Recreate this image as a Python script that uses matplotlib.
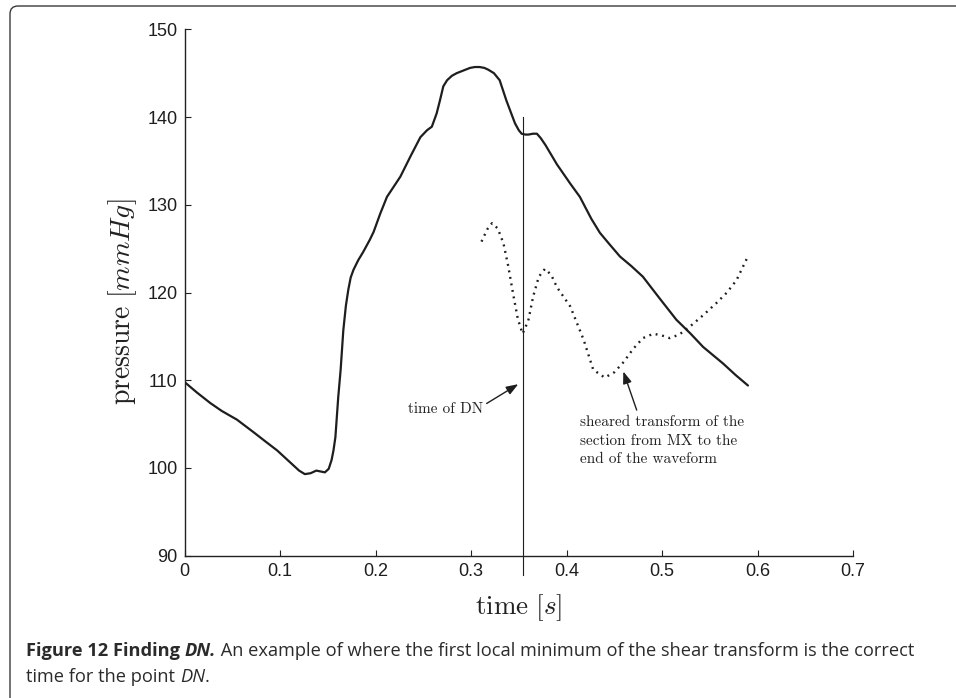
import matplotlib
matplotlib.use("Agg")
import matplotlib.pyplot as plt
from matplotlib.patches import FancyBboxPatch

# ---------------- data ----------------
wave_t = [0.000, 0.013, 0.027, 0.039, 0.055, 0.072, 0.085, 0.097, 0.106, 0.114,
          0.120, 0.126, 0.132, 0.138, 0.147, 0.151, 0.154, 0.156, 0.158, 0.161,
          0.1635, 0.1663, 0.169, 0.1715, 0.174, 0.177, 0.182, 0.187, 0.194, 0.198,
          0.205, 0.212, 0.226, 0.237, 0.247, 0.254, 0.259, 0.264, 0.2675, 0.271,
          0.275, 0.280, 0.285, 0.292, 0.299, 0.304, 0.309, 0.314, 0.318, 0.324,
          0.330, 0.337, 0.346, 0.350, 0.353, 0.357, 0.360, 0.365, 0.369, 0.373,
          0.378, 0.390, 0.404, 0.414, 0.426, 0.435, 0.445, 0.456, 0.468, 0.480,
          0.497, 0.515, 0.530, 0.543, 0.564, 0.577, 0.590]
wave_p = [109.8, 108.6, 107.4, 106.5, 105.5, 104.1, 103.0, 102.0, 101.1, 100.3,
          99.7, 99.3, 99.4, 99.7, 99.5, 99.9, 100.9, 102.0, 103.5, 108.1,
          111.2, 115.7, 118.5, 120.3, 121.7, 122.6, 123.7, 124.6, 126.0, 126.9,
          129.0, 130.9, 133.2, 135.6, 137.7, 138.5, 138.9, 140.4, 141.9, 143.5,
          144.2, 144.7, 145.0, 145.3, 145.6, 145.7, 145.7, 145.6, 145.4, 145.0,
          144.2, 141.9, 139.3, 138.5, 138.1, 138.0, 138.0, 138.1, 138.1, 137.6,
          136.8, 134.6, 132.4, 130.9, 128.4, 126.8, 125.5, 124.1, 123.0, 121.8,
          119.4, 116.9, 115.3, 113.8, 111.9, 110.6, 109.4]

shear_t = [0.311, 0.317, 0.322, 0.328, 0.334, 0.339, 0.344, 0.349, 0.354, 0.360,
           0.365, 0.371, 0.3775, 0.384, 0.390, 0.404, 0.418, 0.428, 0.440, 0.450,
           0.460, 0.470, 0.480, 0.491, 0.500, 0.508, 0.518, 0.529, 0.543, 0.557,
           0.568, 0.578, 0.589]
shear_p = [125.8, 127.2, 127.9, 127.3, 125.6, 123.0, 119.9, 117.0, 115.3, 116.8,
           119.5, 121.8, 122.7, 122.0, 120.6, 118.4, 114.6, 111.2, 110.3, 110.9,
           112.1, 113.6, 114.8, 115.3, 115.1, 114.8, 115.2, 116.1, 117.4, 118.8,
           120.0, 121.4, 123.9]

dn_time = 0.3545
dn_line_p = [87.8, 140.0]

x_ticks = [0, 0.1, 0.2, 0.3, 0.4, 0.5, 0.6, 0.7]
x_ticklabels = ["0", "0.1", "0.2", "0.3", "0.4", "0.5", "0.6", "0.7"]
y_ticks = [90, 100, 110, 120, 130, 140, 150]
y_ticklabels = ["90", "100", "110", "120", "130", "140", "150"]

# ---------------- figure ----------------
plt.rcParams["mathtext.fontset"] = "cm"
W, H = 956, 698
fig = plt.figure(figsize=(W / 100, H / 100), dpi=100)

# border (open at right / bottom, rounded top-left corner)
border = FancyBboxPatch((0.10, -0.5), 10.0, 6.98 - 0.06 + 0.5,
                        boxstyle="round,pad=0,rounding_size=0.08",
                        transform=fig.dpi_scale_trans, fill=False,
                        edgecolor="#3a3a3a", linewidth=1.0, clip_on=False)
fig.patches.append(border)

ax = fig.add_axes([184.5 / W, 1 - 555.7 / H, (853 - 184.5) / W, (555.7 - 29.3) / H])
ax.set_xlim(0, 0.7)
ax.set_ylim(90, 150)
ax.spines["top"].set_visible(False)
ax.spines["right"].set_visible(False)
for s in ("left", "bottom"):
    ax.spines[s].set_linewidth(1.0)
    ax.spines[s].set_color("#222222")

ax.set_xticks(x_ticks)
ax.set_xticklabels(x_ticklabels)
ax.set_yticks(y_ticks)
ax.set_yticklabels(y_ticklabels)
ax.tick_params(direction="in", length=4, width=0.8, color="#222222",
               labelsize=13, labelcolor="#1e1e1e", pad=5)
for lbl in ax.get_xticklabels() + ax.get_yticklabels():
    lbl.set_family("Liberation Sans")

ax.plot(wave_t, wave_p, color="#1e1e1e", lw=1.6, solid_joinstyle="round",
        solid_capstyle="round")
ax.plot(shear_t, shear_p, color="#1e1e1e", lw=1.7, linestyle=(0, (0.8, 2.0)),
        dash_capstyle="butt")
ax.plot([dn_time, dn_time], dn_line_p, color="#1e1e1e", lw=0.8, clip_on=False)

ax.set_xlabel(r"$\mathrm{time}\ [s]$", fontsize=19.5, color="#222222", va="center")
ax.xaxis.set_label_coords(0.5, (555.7 - 608) / 526.4)
ax.set_ylabel(r"$\mathrm{pressure}\ [mmHg]$", fontsize=20, color="#222222", va="center")
ax.yaxis.set_label_coords((123 - 184.5) / 668.5, (555.7 - 302) / 526.4)

ann_font = dict(family="cmr10", fontsize=11, color="#222222")
ax.text(0.3126, 106.7, "time of DN", ha="right", va="center", **ann_font)
ax.annotate("", xy=(0.3495, 109.55), xytext=(0.3164, 107.35),
            arrowprops=dict(arrowstyle="-|>,head_length=0.6,head_width=0.22",
                            mutation_scale=12, color="#1e1e1e", lw=1.0,
                            shrinkA=0, shrinkB=0))
ax.text(0.414, 106.0, "sheared transform of the\nsection from MX to the\nend of the waveform",
        ha="left", va="top", linespacing=1.45, **ann_font)
ax.annotate("", xy=(0.4595, 111.0), xytext=(0.4735, 106.6),
            arrowprops=dict(arrowstyle="-|>,head_length=0.6,head_width=0.22",
                            mutation_scale=12, color="#1e1e1e", lw=1.0,
                            shrinkA=0, shrinkB=0))

# ---------------- caption ----------------
cap_fs = 13.15
cap_color = "#2b2b2b"
lines = [
    [("Figure 12 Finding ", "bold", "normal"), ("DN.", "bold", "italic"),
     (" An example of where the first local minimum of the shear transform is the correct", "normal", "normal")],
    [("time for the point ", "normal", "normal"), ("DN", "normal", "italic"), (".", "normal", "normal")],
]
baselines = [656, 682.5]
fig.canvas.draw()
renderer = fig.canvas.get_renderer()
for pieces, base in zip(lines, baselines):
    x = 26
    for txt, weight, style in pieces:
        t = fig.text(x / W, 1 - base / H, txt, fontsize=cap_fs, family="Open Sans",
                     weight=weight, style=style, color=cap_color, va="baseline", ha="left")
        bb = t.get_window_extent(renderer)
        x = bb.x1

fig.savefig("out.png", dpi=100)
